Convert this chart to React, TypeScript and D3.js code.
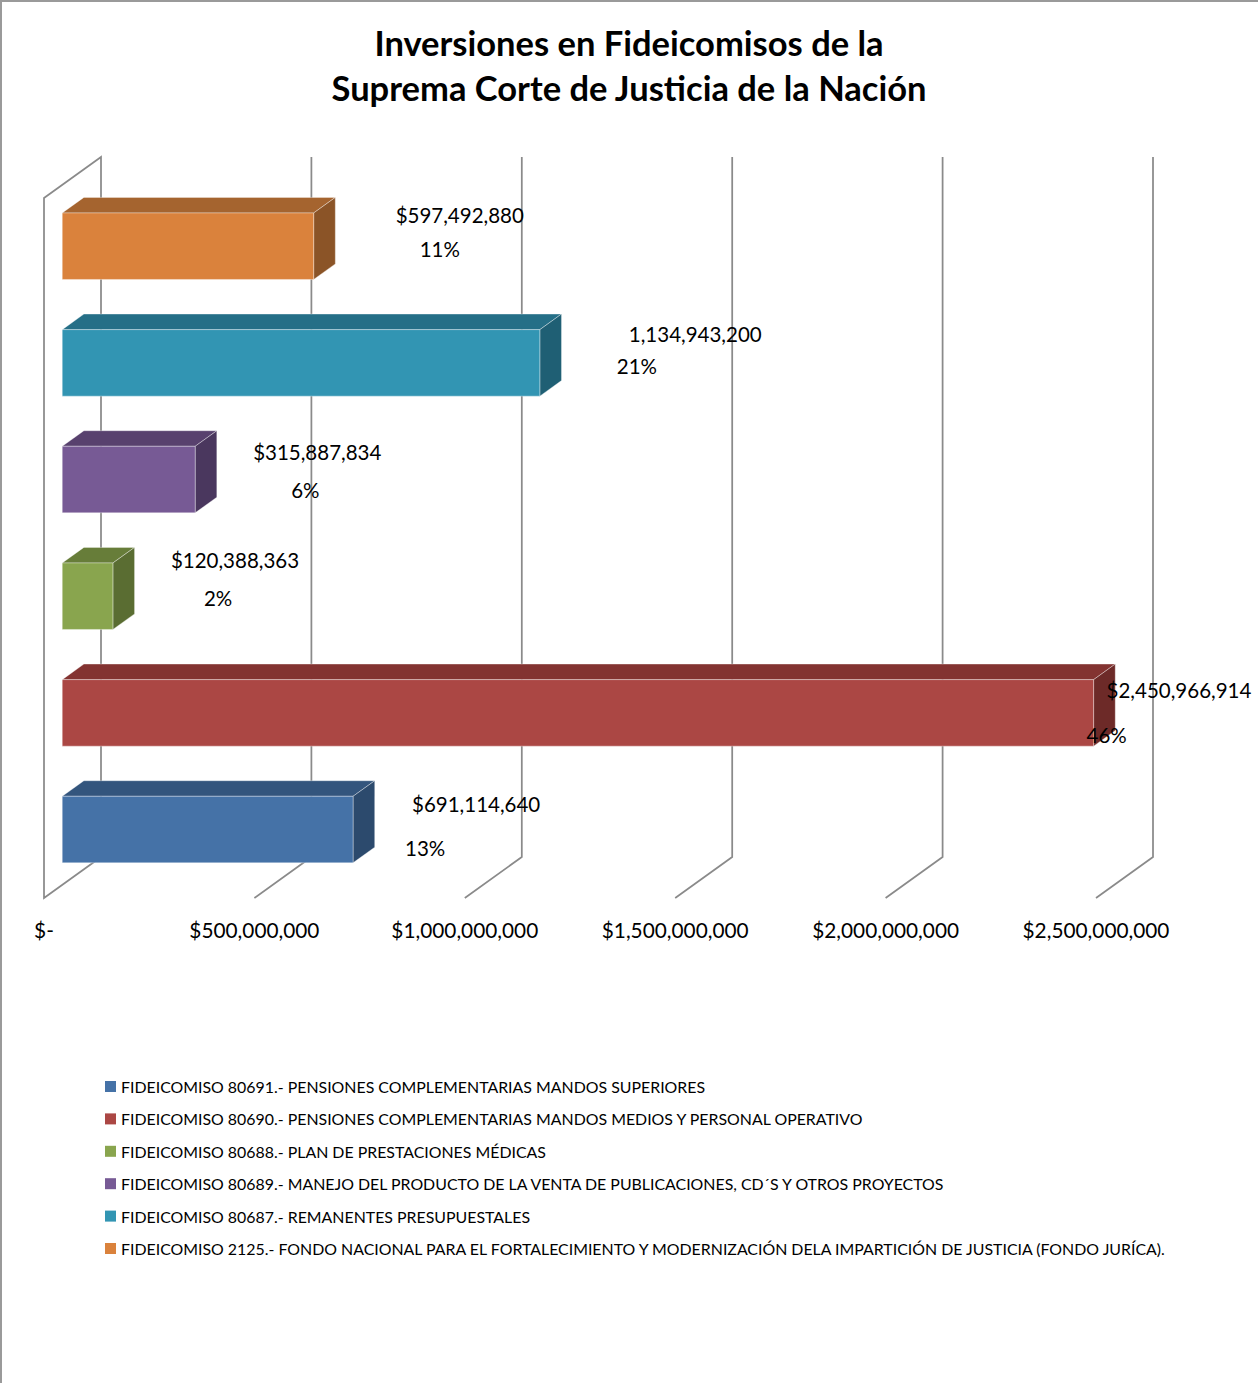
import React from 'react';
import * as d3 from 'd3';

// Chart data (Excel series order: bottom bar first)
const categories = [
  'FIDEICOMISO 80691.- PENSIONES COMPLEMENTARIAS MANDOS SUPERIORES',
  'FIDEICOMISO 80690.- PENSIONES COMPLEMENTARIAS MANDOS MEDIOS Y PERSONAL OPERATIVO',
  'FIDEICOMISO 80688.- PLAN DE PRESTACIONES MÉDICAS',
  'FIDEICOMISO 80689.- MANEJO DEL PRODUCTO DE LA VENTA DE PUBLICACIONES, CD´S Y OTROS PROYECTOS',
  'FIDEICOMISO 80687.- REMANENTES PRESUPUESTALES',
  'FIDEICOMISO 2125.- FONDO NACIONAL PARA EL FORTALECIMIENTO Y MODERNIZACIÓN DELA IMPARTICIÓN DE JUSTICIA (FONDO JURÍCA).',
];
const values = [691114640, 2450966914, 120388363, 315887834, 1134943200, 597492880];
const valueLabels = ['$691,114,640', '$2,450,966,914', '$120,388,363', '$315,887,834', '1,134,943,200', '$597,492,880'];
const axisTicks = [0, 500000000, 1000000000, 1500000000, 2000000000, 2500000000];
const titleLines = ['Inversiones en Fideicomisos de la', 'Suprema Corte de Justicia de la Nación'];

// colours: front, top, side
const palette = [
  { front: '#4572a7', top: '#33557d', side: '#2c4a6d' },
  { front: '#ab4744', top: '#833331', side: '#6d2a28' },
  { front: '#89a54e', top: '#677d39', side: '#5a6d32' },
  { front: '#775a95', top: '#58416e', side: '#4a375e' },
  { front: '#3295b3', top: '#256f87', side: '#1f5f74' },
  { front: '#da823c', top: '#a5642f', side: '#8b5427' },
];

// manual label nudges (px from bar end / bar top), as placed in the original
const labelNudge = [
  { vx: 59, vy: 8, px: 52, py: 52 },
  { vx: 13, vy: 10, px: -7, py: 55 },
  { vx: 58, vy: -3, px: 91, py: 35 },
  { vx: 58, vy: 6, px: 96, py: 44 },
  { vx: 89, vy: 4, px: 77, py: 36 },
  { vx: 82, vy: 2, px: 106, py: 36 },
];

const W = 1258;
const H = 1383;
const FONT = 'Lato, "Open Sans", sans-serif';

export default function App() {
  // back wall geometry
  const x0 = 101;
  const backTop = 157;
  const backBottom = 857;
  const depthX = -57;
  const depthY = 41;
  const dFront = 0.68;
  const dBack = 0.3;

  const xScale = d3.scaleLinear().domain([0, 2500000000]).range([0, 1052]);
  const yScale = d3
    .scaleBand<number>()
    .domain(d3.range(values.length).reverse())
    .range([backTop + 3, backBottom + 3])
    .paddingInner(0.43)
    .paddingOuter(0.215);

  const P = (x: number, y: number, d: number): [number, number] => [x0 + x + depthX * d, y + depthY * d];
  const poly = (pts: [number, number][]) => pts.map((p) => p.join(',')).join(' ');

  const total = d3.sum(values);
  const pct = d3.format('.0%');
  const tickFmt = (v: number) => (v === 0 ? '$-' : '$' + d3.format(',')(v));
  const grid = '#8a8a8a';

  return (
    <svg
      width={W}
      height={H}
      style={{ position: 'absolute', left: 0, top: 0, background: '#fff' }}
      fontFamily={FONT}
    >
      <rect x={0} y={0} width={W} height={H} fill="#fff" />
      {/* page border */}
      <line x1={0} y1={1} x2={W} y2={1} stroke="#9a9a9a" strokeWidth={2} />
      <line x1={1} y1={0} x2={1} y2={H} stroke="#9a9a9a" strokeWidth={2} />

      {/* title */}
      {titleLines.map((t, i) => (
        <text
          key={t}
          x={629}
          y={42.5 + i * 45}
          textAnchor="middle"
          dominantBaseline="central"
          fontSize={34.5}
          fontWeight="bold"
          fill="#000"
        >
          {t}
        </text>
      ))}

      {/* left wall */}
      <polyline
        points={poly([P(0, backBottom, 0), P(0, backTop, 0), P(0, backTop, 1), P(0, backBottom, 1), P(0, backBottom, 0)])}
        fill="none"
        stroke={grid}
        strokeWidth={1.75}
      />
      {/* gridlines on back wall and floor */}
      {axisTicks.slice(1).map((t) => (
        <polyline
          key={t}
          points={poly([P(xScale(t), backTop, 0), P(xScale(t), backBottom, 0), P(xScale(t), backBottom, 1)])}
          fill="none"
          stroke={grid}
          strokeWidth={1.75}
        />
      ))}

      {/* bars */}
      {values.map((v, i) => {
        const yt = yScale(i)!;
        const yb = yt + yScale.bandwidth();
        const xe = xScale(v);
        const c = palette[i];
        return (
          <g key={i} stroke="rgba(255,255,255,0.35)" strokeWidth={1} strokeLinejoin="round">
            <polygon points={poly([P(0, yt, dFront), P(xe, yt, dFront), P(xe, yt, dBack), P(0, yt, dBack)])} fill={c.top} />
            <polygon points={poly([P(xe, yt, dFront), P(xe, yt, dBack), P(xe, yb, dBack), P(xe, yb, dFront)])} fill={c.side} />
            <polygon points={poly([P(0, yt, dFront), P(xe, yt, dFront), P(xe, yb, dFront), P(0, yb, dFront)])} fill={c.front} />
          </g>
        );
      })}

      {/* data labels */}
      {values.map((v, i) => {
        const [ex, ey] = P(xScale(v), yScale(i)!, dFront);
        const n = labelNudge[i];
        return (
          <g key={i} fontSize={20.5} fill="#000">
            <text x={ex + n.vx} y={ey + n.vy} dominantBaseline="central">
              {valueLabels[i]}
            </text>
            <text x={ex + n.px} y={ey + n.py} dominantBaseline="central">
              {pct(v / total)}
            </text>
          </g>
        );
      })}

      {/* axis tick labels */}
      {axisTicks.map((t) => {
        const [tx] = P(xScale(t), backBottom, 1);
        return (
          <text key={t} x={tx} y={929} textAnchor="middle" dominantBaseline="central" fontSize={20.8} fill="#000">
            {tickFmt(t)}
          </text>
        );
      })}

      {/* legend */}
      {categories.map((c, i) => (
        <g key={c} transform={`translate(105, ${1086.5 + i * 32.4})`}>
          <rect x={0} y={-5.5} width={11} height={11} fill={palette[i].front} />
          <text x={16} y={0} dominantBaseline="central" fontSize={15.9} fill="#000">
            {c}
          </text>
        </g>
      ))}
    </svg>
  );
}
